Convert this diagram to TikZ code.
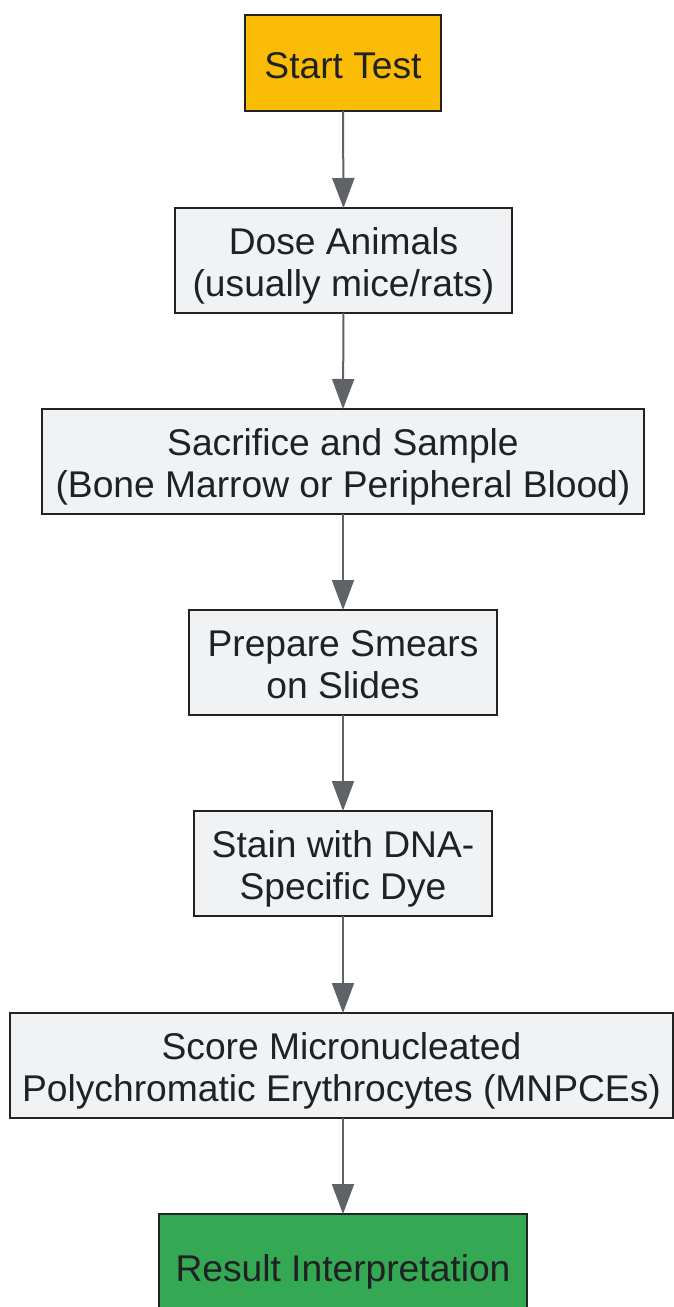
\documentclass[tikz,border=0pt]{standalone}
\usepackage{fontspec}
\setmainfont{Liberation Sans}
\usetikzlibrary{arrows.meta}
\definecolor{startc}{HTML}{FBBC05}
\definecolor{endc}{HTML}{34A853}
\definecolor{boxc}{HTML}{F1F2F4}
\definecolor{linec}{HTML}{222222}
\definecolor{arrc}{HTML}{5F6368}
\definecolor{txtc}{HTML}{202124}
\newcommand{\lbl}[1]{\raisebox{-7pt}[\height][\depth]{\begin{tabular}{@{}c@{}}#1\end{tabular}}}
\tikzset{
  stepbox/.style={draw=linec, line width=2pt, fill=boxc, text=txtc, align=center,
    font=\fontsize{37.2}{42}\selectfont, inner sep=0pt, outer sep=0pt},
  conn/.style={draw=arrc, line width=2pt, -{Triangle[length=30pt,width=22pt]}}
}
\begin{document}
\begin{tikzpicture}[x=1pt,y=-1pt]
\useasboundingbox (0,0) rectangle (674,1307);
\clip (0,0) rectangle (674,1307);
\node[stepbox, fill=startc, minimum width=196pt, minimum height=96pt] (start) at (343,63) {\lbl{Start Test}};
\node[stepbox, minimum width=337pt, minimum height=105pt] (dose) at (343.5,260.5) {\lbl{Dose Animals\\(usually mice/rats)}};
\node[stepbox, minimum width=602pt, minimum height=105pt] (sac) at (343,461.5) {\lbl{Sacrifice and Sample\\(Bone Marrow or Peripheral Blood)}};
\node[stepbox, minimum width=308pt, minimum height=105pt] (prep) at (343,662.5) {\lbl{Prepare Smears\\on Slides}};
\node[stepbox, minimum width=298pt, minimum height=105pt] (stain) at (343,863.5) {\lbl{Stain with DNA-\\Specific Dye}};
\node[stepbox, minimum width=663pt, minimum height=105pt] (score) at (341.5,1065.5) {\lbl{Score Micronucleated\\Polychromatic Erythrocytes (MNPCEs)}};
\node[stepbox, fill=endc, minimum width=368pt, minimum height=105pt] (res) at (343,1266.5) {\lbl{Result Interpretation}};
\draw[conn] (start.south) -- (dose.north);
\draw[conn] (dose.south) -- (sac.north);
\draw[conn] (sac.south) -- (prep.north);
\draw[conn] (prep.south) -- (stain.north);
\draw[conn] (stain.south) -- (score.north -| stain.south);
\draw[conn] (score.south -| res.north) -- (res.north);
\end{tikzpicture}
\end{document}
